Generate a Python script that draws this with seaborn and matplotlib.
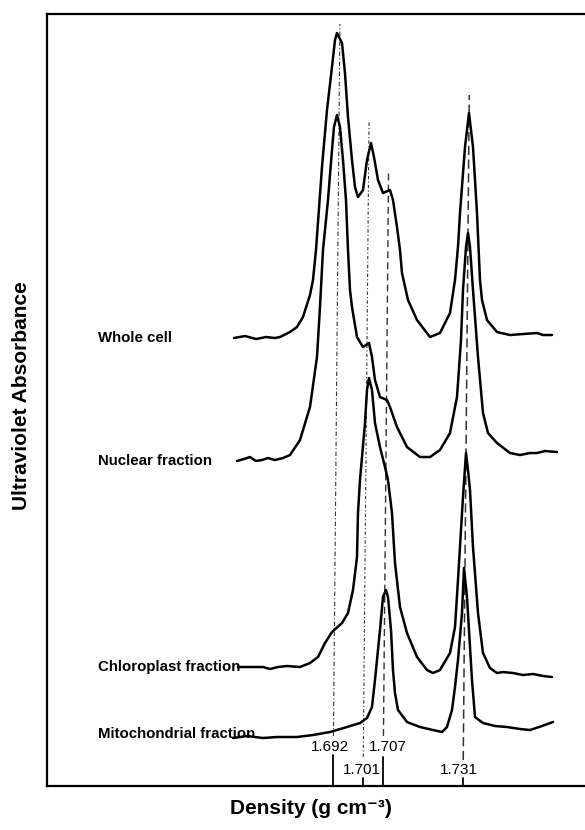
import numpy as np
import pandas as pd
import seaborn as sns
import matplotlib.pyplot as plt

# buoyant densities of the bands (g cm-3)
band_density = [1.692, 1.701, 1.707, 1.731]
band_labels = ["1.692", "1.701", "1.707", "1.731"]

trace_names = ["Whole cell", "Nuclear fraction", "Chloroplast fraction", "Mitochondrial fraction"]

# densitometer traces (absorbance in arbitrary units)
whole_density = [1.6623, 1.6656, 1.6689, 1.6719, 1.6746, 1.6761, 1.6791, 1.6812, 1.6830, 1.6851,
                 1.6860, 1.6869, 1.6887, 1.6902, 1.6917, 1.6926, 1.6932, 1.6947, 1.6956, 1.6965,
                 1.6977, 1.6986, 1.6995, 1.7010, 1.7022, 1.7034, 1.7043, 1.7055, 1.7070, 1.7091,
                 1.7100, 1.7112, 1.7121, 1.7127, 1.7145, 1.7172, 1.7211, 1.7241, 1.7271, 1.7286,
                 1.7295, 1.7301, 1.7316, 1.7328, 1.7340, 1.7352, 1.7361, 1.7367, 1.7382, 1.7412,
                 1.7451, 1.7490, 1.7532, 1.7550, 1.7577]
whole_abs = [44.8, 45.0, 44.7, 44.9, 44.8, 44.9, 45.4, 45.9, 46.9, 49.1,
             50.6, 53.6, 61.9, 67.6, 71.9, 74.6, 75.3, 74.3, 71.3, 66.9,
             62.6, 59.9, 58.9, 59.6, 62.6, 64.3, 62.9, 60.6, 59.3, 59.6,
             58.6, 55.9, 53.6, 51.3, 48.6, 46.6, 44.9, 45.3, 47.3, 50.6,
             53.9, 57.3, 63.9, 67.3, 63.9, 57.3, 50.6, 48.6, 46.6, 45.4,
             45.1, 45.2, 45.3, 45.1, 45.1]

nuclear_density = [1.6632, 1.6653, 1.6671, 1.6689, 1.6707, 1.6725, 1.6746, 1.6770, 1.6791, 1.6821,
                   1.6851, 1.6872, 1.6881, 1.6890, 1.6905, 1.6917, 1.6923, 1.6932, 1.6941, 1.6950,
                   1.6959, 1.6965, 1.6971, 1.6977, 1.6992, 1.7010, 1.7028, 1.7037, 1.7046, 1.7061,
                   1.7082, 1.7091, 1.7112, 1.7142, 1.7181, 1.7211, 1.7241, 1.7271, 1.7292, 1.7304,
                   1.7310, 1.7319, 1.7325, 1.7331, 1.7340, 1.7355, 1.7370, 1.7385, 1.7412, 1.7451,
                   1.7481, 1.7511, 1.7532, 1.7556, 1.7592]
nuclear_abs = [32.5, 32.7, 32.9, 32.5, 32.6, 32.8, 32.6, 32.8, 33.1, 34.6,
               37.9, 42.9, 47.9, 53.6, 58.6, 63.6, 65.9, 67.1, 65.9, 62.6,
               58.6, 53.6, 49.6, 47.9, 44.9, 43.9, 44.3, 42.9, 40.6, 38.9,
               38.6, 37.9, 35.9, 33.9, 32.9, 32.9, 33.6, 35.3, 38.9, 44.6,
               49.6, 53.9, 55.3, 53.9, 49.6, 42.9, 37.3, 35.3, 34.3, 33.3,
               33.1, 33.3, 33.3, 33.5, 33.4]

chloro_density = [1.6635, 1.6680, 1.6710, 1.6731, 1.6755, 1.6782, 1.6821, 1.6851, 1.6875, 1.6896,
                  1.6917, 1.6947, 1.6965, 1.6980, 1.6992, 1.6995, 1.7001, 1.7016, 1.7022, 1.7028,
                  1.7037, 1.7046, 1.7061, 1.7076, 1.7085, 1.7097, 1.7106, 1.7121, 1.7142, 1.7172,
                  1.7202, 1.7220, 1.7241, 1.7271, 1.7286, 1.7295, 1.7304, 1.7310, 1.7319, 1.7325,
                  1.7331, 1.7340, 1.7355, 1.7370, 1.7391, 1.7412, 1.7430, 1.7460, 1.7490, 1.7520,
                  1.7550, 1.7577]
chloro_abs = [11.9, 11.9, 11.9, 11.7, 11.9, 12.0, 11.9, 12.3, 12.9, 14.3,
              15.4, 16.3, 17.3, 19.6, 22.9, 27.3, 30.6, 36.3, 39.6, 40.8,
              39.6, 36.3, 33.9, 31.9, 30.6, 27.3, 22.3, 17.9, 15.3, 12.9,
              11.6, 11.3, 11.6, 13.3, 15.9, 20.6, 25.6, 28.9, 33.3, 31.6,
              29.6, 23.9, 17.3, 13.3, 11.8, 11.3, 11.4, 11.3, 11.1, 11.2,
              11.0, 10.9]

mito_density = [1.6620, 1.6662, 1.6710, 1.6752, 1.6791, 1.6812, 1.6860, 1.6911, 1.6962, 1.7001,
                1.7022, 1.7037, 1.7046, 1.7052, 1.7061, 1.7070, 1.7079, 1.7085, 1.7094, 1.7100,
                1.7106, 1.7115, 1.7142, 1.7181, 1.7220, 1.7247, 1.7262, 1.7277, 1.7286, 1.7295,
                1.7307, 1.7313, 1.7322, 1.7331, 1.7337, 1.7346, 1.7370, 1.7406, 1.7442, 1.7481,
                1.7511, 1.7547, 1.7580]
mito_abs = [4.8, 5.0, 4.8, 4.9, 4.9, 4.9, 5.1, 5.4, 5.9, 6.3,
            6.8, 7.9, 10.6, 12.6, 15.6, 18.9, 19.6, 18.9, 15.6, 11.6,
            9.3, 7.6, 6.4, 5.9, 5.6, 5.4, 5.9, 7.6, 9.9, 12.6,
            17.3, 21.8, 18.9, 13.9, 10.6, 6.9, 6.3, 6.0, 5.9, 5.7,
            5.6, 6.0, 6.4]

traces = [(whole_density, whole_abs), (nuclear_density, nuclear_abs),
          (chloro_density, chloro_abs), (mito_density, mito_abs)]

frames = []
for name, (dens, ab) in zip(trace_names, traces):
    frames.append(pd.DataFrame({"trace": name, "density": dens, "absorbance": ab}))
df = pd.concat(frames, ignore_index=True)

sns.set_style("white")
plt.rcParams["font.family"] = ["Liberation Sans", "DejaVu Sans"]
plt.rcParams["text.color"] = "black"

fig = plt.figure(figsize=(5.85, 8.3), dpi=100)
ax = fig.add_axes([0.0803, 0.053, 0.9197, 0.9307])

sns.lineplot(data=df, x="density", y="absorbance", units="trace", estimator=None,
             sort=False, color="black", lw=1.8, ax=ax,
             solid_joinstyle="round", solid_capstyle="round")

# guide lines through the bands (leaning slightly, as in the scanned original)
lean = 0.0021 / 77.3
guide_top = [76.2, 66.4, 61.3, 69.1]
guide_bottom = [5.0, 2.9, 5.0, 2.6]
guide_style = [(0, (4, 2, 1, 2)), (0, (3, 2, 1, 2)), (0, (5, 3)), (0, (6, 3))]
guide_lw = [0.8, 0.8, 1.0, 1.1]
tick_len = [3.1, 0.8, 2.9, 0.8]
# label centre, offset from the foot of each tick (points)
label_offset = [(-2.2, 28), (-0.7, 11.5), (3.6, 28), (-2.9, 11.5)]

for d, lab, top, bot, ls, lw, tl, off in zip(band_density, band_labels, guide_top, guide_bottom,
                                            guide_style, guide_lw, tick_len, label_offset):
    ax.plot([d + lean * bot, d + lean * top], [bot, top], color="#333333", lw=lw, ls=ls, zorder=1)
    ax.plot([d, d], [0, tl], color="black", lw=1.3, zorder=1)
    ax.annotate(lab, xy=(d, 0), xytext=off, textcoords="offset points",
                ha="center", va="center", fontsize=11)

# trace names at the left of each baseline
name_x = 1.6215
name_dy = [0, 0, 0, 3]
for name, (dens, ab), dy in zip(trace_names, traces, name_dy):
    ax.annotate(name, xy=(name_x, ab[0]), xytext=(0, dy), textcoords="offset points",
                ha="left", va="center", fontsize=10.8, fontweight="bold")

ax.set_xlim(1.6062, 1.7676)
ax.set_ylim(0, 77.25)
ax.set_xticks([])
ax.set_yticks([])
ax.set_xlabel("")
ax.set_ylabel("")
for side in ["left", "bottom", "top"]:
    ax.spines[side].set_linewidth(1.6)
    ax.spines[side].set_color("black")
ax.spines["right"].set_visible(False)

fig.text(0.0376, 0.5235, "Ultraviolet Absorbance", rotation=90, ha="center", va="center",
         fontsize=15, fontweight="bold")
fig.text(0.532, 0.0265, "Density (g cm\u207b\u00b3)", ha="center", va="center",
         fontsize=15, fontweight="bold")

fig.savefig("out.png", dpi=100)
